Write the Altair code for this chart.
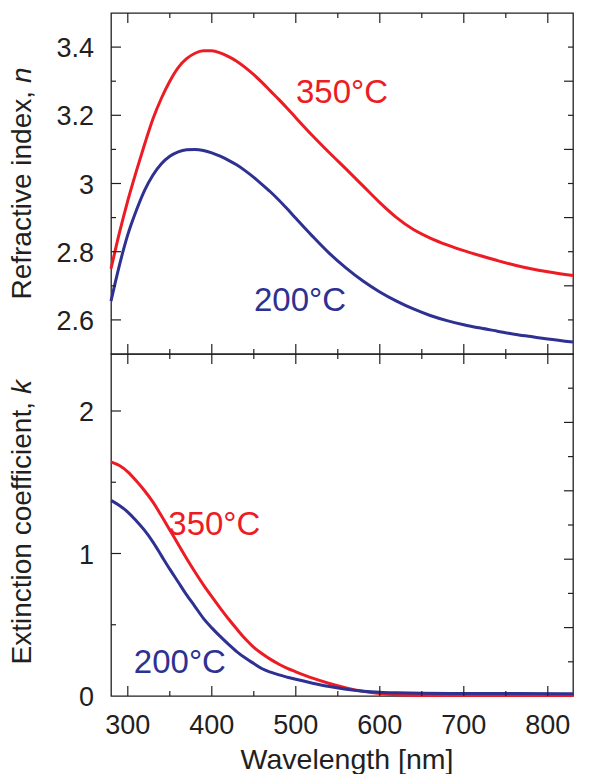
import altair as alt
import pandas as pd

RED = "#ED1C24"
BLUE = "#2E3192"
INK = "#231F20"
FONT = "Liberation Sans"

# ---------------- data ----------------
# refractive index n, 350 C
wl_n350 = [280, 290, 300, 310, 320, 330, 340, 350, 360, 370, 380, 390, 400, 410, 420, 430, 440, 450, 460,
           470, 480, 490, 500, 520, 540, 560, 580, 600, 620, 640, 660, 680, 700, 720, 740, 760, 780, 800, 830]
n350 = [2.750, 2.855, 2.950, 3.035, 3.115, 3.190, 3.250, 3.300, 3.340, 3.366, 3.382, 3.389, 3.389, 3.383,
        3.372, 3.358, 3.340, 3.319, 3.296, 3.271, 3.246, 3.220, 3.193, 3.140, 3.090, 3.042, 2.993, 2.944,
        2.900, 2.865, 2.840, 2.820, 2.803, 2.788, 2.774, 2.761, 2.750, 2.741, 2.730]
# refractive index n, 200 C
wl_n200 = [280, 290, 300, 310, 320, 330, 340, 350, 360, 370, 380, 390, 400, 410, 420, 430, 440, 450, 460,
           470, 480, 490, 500, 520, 540, 560, 580, 600, 620, 640, 660, 680, 700, 720, 740, 760, 780, 800, 830]
n200 = [2.655, 2.760, 2.850, 2.920, 2.980, 3.025, 3.058, 3.080, 3.093, 3.099, 3.100, 3.097, 3.090, 3.080,
        3.068, 3.054, 3.037, 3.018, 2.997, 2.975, 2.951, 2.925, 2.898, 2.845, 2.795, 2.752, 2.714, 2.682,
        2.655, 2.632, 2.613, 2.598, 2.586, 2.576, 2.567, 2.558, 2.551, 2.544, 2.535]
# extinction coefficient k, 350 C
wl_k350 = [280, 290, 300, 310, 320, 330, 340, 350, 360, 370, 380, 390, 400, 410, 420, 430, 440, 450, 460,
           470, 480, 490, 500, 520, 540, 560, 580, 600, 620, 650, 700, 830]
k350 = [1.643, 1.617, 1.573, 1.510, 1.440, 1.360, 1.265, 1.165, 1.065, 0.965, 0.870, 0.780, 0.697, 0.617,
        0.540, 0.468, 0.400, 0.342, 0.297, 0.257, 0.223, 0.194, 0.170, 0.125, 0.088, 0.057, 0.033, 0.017,
        0.008, 0.004, 0.003, 0.003]
# extinction coefficient k, 200 C
wl_k200 = [280, 290, 300, 310, 320, 330, 340, 350, 360, 370, 380, 390, 400, 410, 420, 430, 440, 450, 460,
           470, 480, 490, 500, 520, 540, 560, 580, 600, 620, 650, 700, 760, 830]
k200 = [1.373, 1.337, 1.291, 1.230, 1.162, 1.080, 0.985, 0.890, 0.800, 0.710, 0.628, 0.545, 0.478, 0.418,
        0.362, 0.310, 0.266, 0.228, 0.191, 0.167, 0.148, 0.132, 0.117, 0.090, 0.066, 0.047, 0.034, 0.026,
        0.022, 0.019, 0.018, 0.017, 0.016]

series_labels = ["350°C", "200°C"]
label_colors = [RED, BLUE]
label_top_wl = [555, 505]
label_top_val = [3.271, 2.66]
label_bot_wl = [403, 362]
label_bot_val = [1.211, 0.246]

x_labels = [300, 400, 500, 600, 700, 800]
x_label_text = ["300", "400", "500", "600", "700", "800"]
x_minor = [350, 450, 550, 650, 750]
n_labels = [2.6, 2.8, 3.0, 3.2, 3.4]
n_label_text = ["2.6", "2.8", "3", "3.2", "3.4"]
n_minor = [2.7, 2.9, 3.1, 3.3]
n_right_long = [2.7, 2.9, 3.1, 3.3]
n_right_short = [2.6, 2.8, 3.0, 3.2, 3.4]
k_labels = [0, 1, 2]
k_label_text = ["0", "1", "2"]
k_major = [1, 2]
k_minor = [0.5, 1.5]
k_right_long = [0.48, 0.96, 1.44, 1.92]
k_right_short = [0.24, 0.72, 1.2, 1.68, 2.16]

x_title = "Wavelength [nm]"

W = 462
H_TOP = 341
H_BOT = 342
TICK_FS = 27
TITLE_FS = 28

XS = alt.Scale(domain=[280, 830], nice=False, zero=False)
YS_TOP = alt.Scale(domain=[2.5, 3.5], nice=False, zero=False)
YS_BOT = alt.Scale(domain=[0, 2.4], nice=False, zero=False)


def line(wl, vals, color, ys):
    df = pd.DataFrame({"wl": wl, "val": vals})
    return alt.Chart(df).mark_line(color=color, strokeWidth=3, interpolate="monotone").encode(
        x=alt.X("wl:Q", scale=XS, axis=None),
        y=alt.Y("val:Q", scale=ys, axis=None),
    )


def xticks(vals, y0, y1):
    return alt.Chart(pd.DataFrame({"v": vals})).mark_rule(color=INK, strokeWidth=1.2).encode(
        x=alt.X("v:Q", scale=XS, axis=None), y=alt.value(y0), y2=alt.value(y1)
    )


def yticks(vals, ys, x0, x1):
    return alt.Chart(pd.DataFrame({"v": vals})).mark_rule(color=INK, strokeWidth=1.2).encode(
        y=alt.Y("v:Q", scale=ys, axis=None), x=alt.value(x0), x2=alt.value(x1)
    )


def ylabels(vals, texts, ys):
    df = pd.DataFrame({"v": vals, "t": texts})
    return alt.Chart(df).mark_text(font=FONT, fontSize=TICK_FS, align="right", baseline="middle",
                                   color=INK, dy=2).encode(
        y=alt.Y("v:Q", scale=ys, axis=None), x=alt.value(-17), text="t:N"
    )


def xlabels(vals, texts, h):
    df = pd.DataFrame({"v": vals, "t": texts})
    return alt.Chart(df).mark_text(font=FONT, fontSize=TICK_FS, align="center", baseline="alphabetic",
                                   color=INK).encode(
        x=alt.X("v:Q", scale=XS, axis=None), y=alt.value(h + 38), text="t:N"
    )


def curve_labels(wls, vals, ys):
    df = pd.DataFrame({"t": series_labels, "wl": wls, "val": vals, "c": label_colors})
    return alt.Chart(df).mark_text(font=FONT, fontSize=33, align="center", baseline="middle", dy=2).encode(
        x=alt.X("wl:Q", scale=XS, axis=None),
        y=alt.Y("val:Q", scale=ys, axis=None),
        text="t:N",
        color=alt.Color("c:N", scale=None),
    )


def ytitle(main, sym, y_anchor, gap):
    a = alt.Chart(pd.DataFrame({"t": [main]})).mark_text(
        font=FONT, fontSize=TITLE_FS, angle=270, align="right", baseline="middle", color=INK
    ).encode(text="t:N", x=alt.value(-88), y=alt.value(y_anchor + gap))
    b = alt.Chart(pd.DataFrame({"t": [sym]})).mark_text(
        font=FONT, fontSize=TITLE_FS, angle=270, align="left", baseline="middle", color=INK, fontStyle="italic"
    ).encode(text="t:N", x=alt.value(-88), y=alt.value(y_anchor))
    return a + b


def xtitle(h):
    return alt.Chart(pd.DataFrame({"t": [x_title]})).mark_text(
        font=FONT, fontSize=28.5, align="center", baseline="alphabetic", color=INK
    ).encode(text="t:N", x=alt.value(W / 2 + 5), y=alt.value(h + 73))


top = alt.layer(
    line(wl_n350, n350, RED, YS_TOP),
    line(wl_n200, n200, BLUE, YS_TOP),
    xticks(x_labels, 0, 10),
    xticks(x_minor, 0, 5),
    xticks(x_labels, H_TOP, H_TOP - 10),
    xticks(x_minor, H_TOP, H_TOP - 5),
    yticks(n_labels, YS_TOP, 0, 10),
    yticks(n_minor, YS_TOP, 0, 5),
    yticks(n_right_long, YS_TOP, W, W - 9),
    yticks(n_right_short, YS_TOP, W, W - 5),
    ylabels(n_labels, n_label_text, YS_TOP),
    curve_labels(label_top_wl, label_top_val, YS_TOP),
    ytitle("Refractive index,", "n", 70, 8),
).properties(width=W, height=H_TOP)

bot = alt.layer(
    line(wl_k350, k350, RED, YS_BOT),
    line(wl_k200, k200, BLUE, YS_BOT),
    xticks(x_labels, 0, 10),
    xticks(x_minor, 0, 5),
    xticks(x_labels, H_BOT, H_BOT - 10),
    xticks(x_minor, H_BOT, H_BOT - 5),
    yticks(k_major, YS_BOT, 0, 10),
    yticks(k_minor, YS_BOT, 0, 5),
    yticks(k_right_long, YS_BOT, W, W - 9),
    yticks(k_right_short, YS_BOT, W, W - 5),
    ylabels(k_labels, k_label_text, YS_BOT),
    xlabels(x_labels, x_label_text, H_BOT),
    xtitle(H_BOT),
    curve_labels(label_bot_wl, label_bot_val, YS_BOT),
    ytitle("Extinction coefficient,", "k", 40, 8),
).properties(width=W, height=H_BOT)

chart = (
    alt.vconcat(top, bot, spacing=0, bounds="flush")
    .properties(padding={"left": 0, "top": 3, "right": 0, "bottom": 0})
    .configure_view(stroke=INK, strokeWidth=1.3)
)

chart.save("out.html", embed_options={"renderer": "svg", "actions": False})
